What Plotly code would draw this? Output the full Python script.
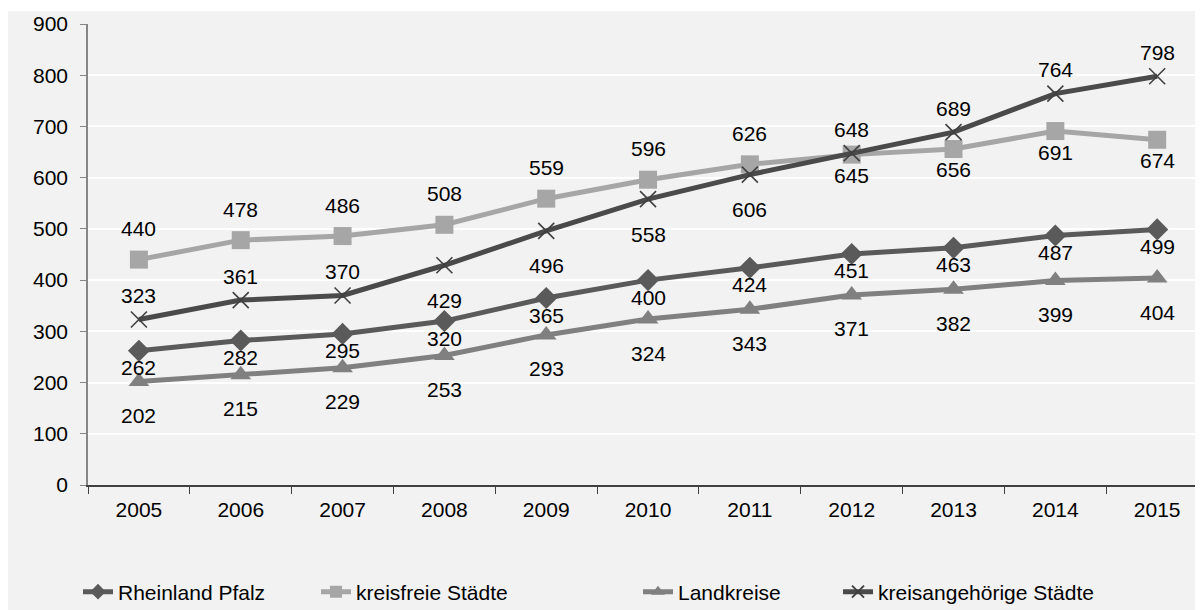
import plotly.graph_objects as go

# Daten
jahre = ["2005", "2006", "2007", "2008", "2009", "2010", "2011", "2012", "2013", "2014", "2015"]
rheinland_pfalz = [262, 282, 295, 320, 365, 400, 424, 451, 463, 487, 499]
kreisfreie_staedte = [440, 478, 486, 508, 559, 596, 626, 645, 656, 691, 674]
landkreise = [202, 215, 229, 253, 293, 324, 343, 371, 382, 399, 404]
kreisangehoerige_staedte = [323, 361, 370, 429, 496, 558, 606, 648, 689, 764, 798]

# Lage der Datenbeschriftung (o = oben, u = unten)
lage_rp = ["u"] * 11
lage_kf = ["o"] * 7 + ["u"] * 4
lage_lk = ["u"] * 11
lage_ka = ["o"] * 3 + ["u"] * 4 + ["o"] * 4

FONT = "Liberation Sans, Arial, sans-serif"
FS = 21

# Seite hat 8px Rand (body margin), daher Figur 1195x602 und alle Pixelangaben -8
OFF = 8
FW, FH = 1203 - OFF, 610 - OFF
L, T = 88 - OFF, 24 - OFF
B = FH - (485 - OFF)
R = 0
W = FW - L - R
H = FH - T - B


def px_x(p):
    return (p - OFF - L) / W


def px_y(p):
    return (FH - B - (p - OFF)) / H


serien = [
    # name, werte, farbe, symbol, markergroesse, lage, versatz oben, versatz unten
    ("Rheinland Pfalz", rheinland_pfalz, "#5a5a5a", "diamond", 17, lage_rp, 20, -17),
    ("kreisfreie Städte", kreisfreie_staedte, "#a6a6a6", "square", 18, lage_kf, 31, -21),
    ("Landkreise", landkreise, "#808080", "triangle-up", 18, lage_lk, 24, -34),
    ("kreisangehörige Städte", kreisangehoerige_staedte, "#4a4a4a", "x-thin", 16, lage_ka, 24, -35),
]

legend_text_x = [120, 358, 680, 880]
legend_keys = ["legend", "legend2", "legend3", "legend4"]

fig = go.Figure()
annots = []
for n, (name, werte, farbe, symbol, groesse, lage, oben, unten) in enumerate(serien):
    marker = {"symbol": symbol, "size": groesse, "color": farbe}
    if symbol == "x-thin":
        marker["line"] = {"width": 1.6, "color": "#404040"}
    fig.add_trace(
        go.Scatter(
            x=jahre,
            y=werte,
            mode="lines+markers",
            name=name,
            line={"color": farbe, "width": 5},
            marker=marker,
            legend=legend_keys[n],
            hoverinfo="x+y+name",
        )
    )
    for i, v in enumerate(werte):
        annots.append(
            dict(
                x=i,  # Kategorienindex
                y=v,
                text=str(v),
                showarrow=False,
                yshift=oben if lage[i] == "o" else unten,
                font={"family": FONT, "size": FS, "color": "#000000"},
            )
        )

legends = {}
for key, tx in zip(legend_keys, legend_text_x):
    legends[key] = dict(
        x=px_x(tx - 42),
        y=px_y(592),
        xanchor="left",
        yanchor="middle",
        orientation="h",
        itemsizing="constant",
        bgcolor="rgba(0,0,0,0)",
        font={"family": FONT, "size": FS, "color": "#000000"},
    )

fig.update_layout(
    width=FW,
    height=FH,
    margin={"l": L, "r": R, "t": T, "b": B, "autoexpand": False},
    paper_bgcolor="#ffffff",
    plot_bgcolor="rgba(0,0,0,0)",
    showlegend=True,
    font={"family": FONT, "size": FS, "color": "#000000"},
    annotations=annots,
    shapes=[
        dict(
            type="rect",
            xref="paper",
            yref="paper",
            x0=px_x(7),
            x1=px_x(1215),
            y0=px_y(620),
            y1=px_y(11),
            fillcolor="#f2f2f2",
            line={"width": 0},
            layer="below",
        )
    ],
    xaxis={
        "type": "category",
        "range": [-0.5, 10.45],
        "tickson": "boundaries",
        "ticks": "outside",
        "ticklen": 7,
        "tickcolor": "#404040",
        "showline": True,
        "linecolor": "#404040",
        "linewidth": 1.5,
        "showgrid": False,
        "ticklabelstandoff": 5,
        "tickfont": {"family": FONT, "size": FS, "color": "#000000"},
    },
    yaxis={
        "range": [0, 900],
        "dtick": 100,
        "ticks": "outside",
        "ticklen": 6,
        "tickcolor": "#868686",
        "showline": True,
        "linecolor": "#868686",
        "linewidth": 1.5,
        "gridcolor": "#ffffff",
        "gridwidth": 1.5,
        "zeroline": False,
        "ticklabelstandoff": 8,
        "tickfont": {"family": FONT, "size": FS, "color": "#000000"},
    },
    **legends,
)

fig.write_html("out.html")
